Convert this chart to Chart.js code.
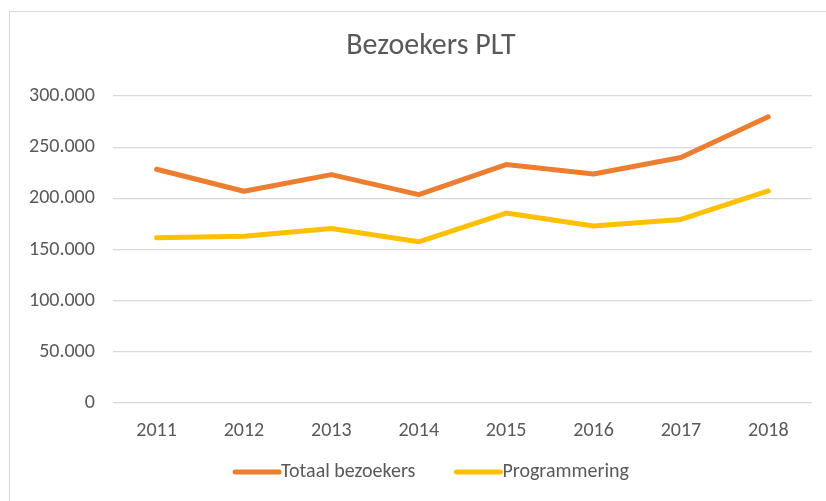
<!DOCTYPE html>
<html>
<head>
<meta charset="utf-8">
<script src="https://cdn.jsdelivr.net/npm/chart.js@4"></script>
<style>
html,body{margin:0;padding:0;background:#fff}
#wrap{position:relative;width:826px;height:501px;overflow:hidden}
#frame{position:absolute;left:9px;top:11px;width:900px;height:600px;border:1px solid #d9d9d9;box-sizing:border-box}
canvas{position:absolute;left:0;top:0}
</style>
</head>
<body>
<div id="wrap">
<div id="frame"></div>
<canvas id="c" width="826" height="501"></canvas>
</div>
<script>
// data
const years=["2011","2012","2013","2014","2015","2016","2017","2018"]
const totaal=[228400,206900,223200,203600,233000,223800,239900,279700]
const programmering=[161400,163000,170600,157500,185600,172900,179400,207200]

const fam="Carlito, 'Liberation Sans Narrow', 'Open Sans', sans-serif"
const grey="#595959"
const chartTitle="Bezoekers PLT"

// title + legend drawn by hand so they sit centred on the outer frame like excel does
const frameText={
id:"frameText",
afterDraw(chart){
const ctx=chart.ctx
const cx=431
ctx.save()
ctx.fillStyle=grey
ctx.textBaseline="middle"
ctx.textAlign="center"
ctx.font="30px "+fam
ctx.fillText(chartTitle,cx,46)

ctx.font="20px "+fam
ctx.textAlign="left"
const line=48,gap=39
const items=chart.data.datasets.map(d=>({text:d.label,color:d.borderColor,w:ctx.measureText(d.label).width}))
let total=items.reduce((s,it)=>s+line+it.w,0)+gap*(items.length-1)
let x=cx-total/2
const y=472
items.forEach(it=>{
ctx.strokeStyle=it.color
ctx.lineWidth=5
ctx.lineCap="round"
ctx.beginPath()
ctx.moveTo(x+2,y)
ctx.lineTo(x+line-2,y)
ctx.stroke()
ctx.fillStyle=grey
ctx.fillText(it.text,x+line,y)
x+=line+it.w+gap
})
ctx.restore()
}
}

new Chart(document.getElementById("c"),{
type:"line",
data:{
labels:years,
datasets:[
{label:"Totaal bezoekers",data:totaal,borderColor:"#ED7D31",backgroundColor:"#ED7D31",borderWidth:5,pointRadius:0,tension:0,borderCapStyle:"round",borderJoinStyle:"round"},
{label:"Programmering",data:programmering,borderColor:"#FFC000",backgroundColor:"#FFC000",borderWidth:5,pointRadius:0,tension:0,borderCapStyle:"round",borderJoinStyle:"round"}
]
},
options:{
responsive:false,
animation:false,
layout:{padding:{left:11,right:14,top:96,bottom:42}},
plugins:{
title:{display:false},
legend:{display:false},
tooltip:{enabled:false}
},
scales:{
x:{offset:true,grid:{display:false,drawTicks:false},border:{display:false},
ticks:{color:grey,font:{family:fam,size:20},padding:16}},
y:{min:0,max:300000,
ticks:{stepSize:50000,color:grey,font:{family:fam,size:20},padding:18,
callback:v=>v.toLocaleString("nl-NL")},
grid:{color:"#d9d9d9",lineWidth:1.3,drawTicks:false},border:{display:false}}
}
},
plugins:[frameText]
})
</script>
</body>
</html>
